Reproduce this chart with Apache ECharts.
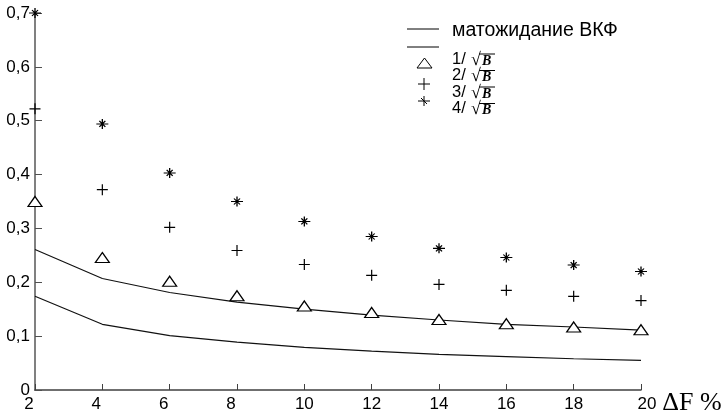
<!DOCTYPE html>
<html><head><meta charset="utf-8">
<script src="https://cdn.jsdelivr.net/npm/echarts@6/dist/echarts.min.js"></script>
<style>html,body{margin:0;padding:0;background:#fff}#c{width:727px;height:416px}</style>
</head><body><div id="c"></div>
<script>
const xValues = [2, 4, 6, 8, 10, 12, 14, 16, 18, 20];
const expUpper = [0.261, 0.207, 0.181, 0.163, 0.150, 0.139, 0.130, 0.122, 0.117, 0.111];
const expLower = [0.174, 0.122, 0.101, 0.089, 0.079, 0.072, 0.066, 0.062, 0.058, 0.055];
const s1 = [0.350, 0.246, 0.202, 0.175, 0.156, 0.144, 0.131, 0.123, 0.117, 0.112];
const s2 = [0.522, 0.372, 0.302, 0.259, 0.233, 0.213, 0.196, 0.185, 0.174, 0.166];
const s3 = [0.700, 0.494, 0.403, 0.350, 0.313, 0.285, 0.263, 0.246, 0.232, 0.220];
const yTickLabels = ['0', '0,1', '0,2', '0,3', '0,4', '0,5', '0,6', '0,7'];
const xTickLabels = ['2', '4', '6', '8', '10', '12', '14', '16', '18', '20'];
const legendMain = 'матожидание ВКФ';
const legendRoots = ['1/', '2/', '3/', '4/'];

const pair = a => xValues.map((x, i) => [x, a[i]]);
const SANS = 'Liberation Sans, Arial, sans-serif';
const SERIF = 'Liberation Serif, Times New Roman, serif';
const plusPath = 'path://M5,0L5,10M0,5L10,5';
const starPath = 'path://M0,5L12,5M6,0L6,10M3,2L9,8M3,8L9,2M5,4L7,6M5,6L7,4';

const chart = echarts.init(document.getElementById('c'), null, {renderer: 'canvas'});

// legend graphics
const g = [];
const lx = 407, lx2 = 439;
g.push({type: 'line', shape: {x1: lx, y1: 29, x2: lx2, y2: 29}, style: {stroke: '#000', lineWidth: 1}});
g.push({type: 'line', shape: {x1: lx, y1: 47, x2: lx2, y2: 47}, style: {stroke: '#000', lineWidth: 1}});
g.push({type: 'text', x: 452, y: 31, style: {text: legendMain, font: '19.5px ' + SANS, fill: '#000', verticalAlign: 'middle'}});
const rootYs = [59, 75.5, 92, 108.5];
legendRoots.forEach((t, i) => {
  const y = rootYs[i];
  g.push({type: 'text', x: 452, y: y, style: {text: t, font: '16.5px ' + SANS, fill: '#000', verticalAlign: 'middle'}});
  g.push({type: 'text', x: 471, y: y + 1, style: {text: '√', font: 'bold 18px ' + SERIF, fill: '#000', verticalAlign: 'middle'}});
  g.push({type: 'text', x: 482, y: y + 2, style: {text: 'B', font: 'italic bold 14px ' + SERIF, fill: '#000', verticalAlign: 'middle'}});
  g.push({type: 'line', shape: {x1: 479, y1: y - 5, x2: 495, y2: y - 5}, style: {stroke: '#000', lineWidth: 1}});
});
// legend markers
g.push({type: 'polygon', shape: {points: [[424.5, 58], [432, 68], [417, 68]]}, style: {fill: '#fff', stroke: '#000', lineWidth: 1}});
g.push({type: 'line', shape: {x1: 418, y1: 84, x2: 430, y2: 84}, style: {stroke: '#000', lineWidth: 1}});
g.push({type: 'line', shape: {x1: 424, y1: 78, x2: 424, y2: 90}, style: {stroke: '#000', lineWidth: 1}});
g.push({type: 'line', shape: {x1: 418, y1: 101, x2: 430, y2: 101}, style: {stroke: '#000', lineWidth: 1}});
g.push({type: 'line', shape: {x1: 424, y1: 96, x2: 424, y2: 106}, style: {stroke: '#000', lineWidth: 1}});
g.push({type: 'line', shape: {x1: 421, y1: 98, x2: 427, y2: 104}, style: {stroke: '#000', lineWidth: 1}});

chart.setOption({
  animation: false,
  backgroundColor: '#fff',
  grid: {left: 35, right: 86, top: 13, bottom: 25, containLabel: false},
  xAxis: {
    type: 'value', min: 2, max: 20, interval: 2,
    axisLine: {show: true, onZero: false, lineStyle: {color: '#404040', width: 1.5}},
    axisTick: {show: true, inside: true, length: 6, lineStyle: {color: '#404040', width: 1}},
    splitLine: {show: false},
    axisLabel: {margin: 6, color: '#000', fontSize: 17, fontFamily: SANS,
      formatter: v => {
        const t = xTickLabels[xValues.indexOf(v)] ?? '';
        if (t.length === 1) return '{l|' + t + '}';
        if (v === 20) return '{r|' + t + '}';
        return t;
      },
      rich: {
        l: {fontSize: 17, fontFamily: SANS, color: '#000', padding: [0, 12, 0, 0]},
        r: {fontSize: 17, fontFamily: SANS, color: '#000', padding: [0, 0, 0, 12]}
      }},
    name: 'ΔF %', nameLocation: 'end', nameGap: 19,
    nameTextStyle: {fontFamily: SERIF, fontSize: 26, color: '#000', verticalAlign: 'top', align: 'left', padding: [0, 0, 0, 0]}
  },
  yAxis: {
    type: 'value', min: 0, max: 0.7, interval: 0.1,
    axisLine: {show: true, onZero: false, lineStyle: {color: '#808080', width: 2}},
    axisTick: {show: true, inside: true, length: 7, lineStyle: {color: '#505050', width: 1}},
    splitLine: {show: false},
    axisLabel: {margin: 5, color: '#000', fontSize: 17, fontFamily: SANS,
      formatter: v => yTickLabels[Math.round(v * 10)]}
  },
  graphic: g,
  series: [
    {type: 'line', data: pair(expUpper), showSymbol: false, smooth: false, lineStyle: {color: '#111', width: 1.2}, z: 2},
    {type: 'line', data: pair(expLower), showSymbol: false, smooth: false, lineStyle: {color: '#111', width: 1.2}, z: 2},
    {type: 'scatter', data: pair(s1), symbol: 'triangle', symbolSize: [14, 10], clip: false,
      itemStyle: {color: '#fff', borderColor: '#000', borderWidth: 1.2, opacity: 1}, z: 3},
    {type: 'scatter', data: pair(s2), symbol: plusPath, symbolSize: [11, 11], clip: false,
      itemStyle: {color: 'none', borderColor: '#000', borderWidth: 1.2, opacity: 1}, z: 3},
    {type: 'scatter', data: pair(s3), symbol: starPath, symbolSize: [12, 10], symbolKeepAspect: false, clip: false,
      itemStyle: {color: 'none', borderColor: '#000', borderWidth: 1.2, opacity: 1}, z: 3}
  ]
});
</script></body></html>
